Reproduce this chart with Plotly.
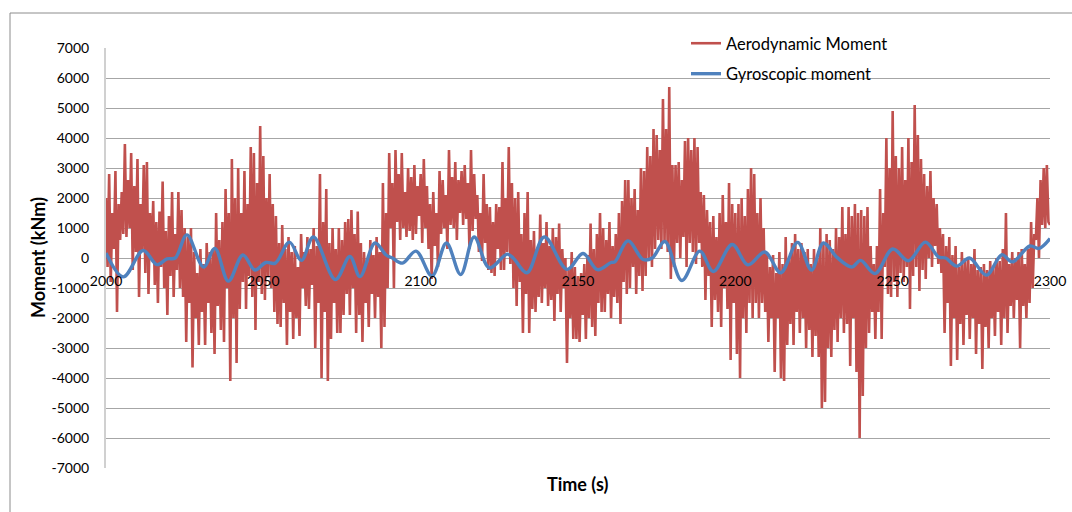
import plotly.graph_objects as go

# Aerodynamic moment samples, every 0.5 s from t = 2000 s (kNm)
aero_start = 2000.0
aero_step = 0.5
aero_moment = [
    2000, -300, 2800, -800, 1500, 300, 2900, -1800, 1800, 600, 2200, 800, 3800, 700, 2600, 1000, 3500, -400, 2400, 200,
    3300, -1300, 1800, 200, 3100, -500, 3200, -1200, 1500, 0, 1900, -900, 1200, -1500, 1550, -300, 2550, -1000, 900, -1900,
    1400, -600, 2200, -1300, 800, -400, 2200, -1000, 1600, -1300, 1000, -2800, 700, -1500, 1000, -3650, 200, -2000, -500, -2900,
    300, -1800, -200, -2900, 500, -1500, 200, -2500, 300, -3200, 1500, -1600, 600, -2400, 1200, -2800, 2300, -1000, 1500, -4100,
    3300, -2000, 2000, -3500, 3000, -1700, 1500, -800, 2900, -1700, 1800, -600, 3700, -1300, 3500, -2400, 2500, -800, 4400, -1200,
    3400, -1400, 2000, -600, 2800, -1000, 1800, -1800, 1400, -2200, 500, -2300, 1100, -1500, 300, -2900, 700, -1800, 200, -2700,
    400, -2000, -300, -2600, 800, -1000, 200, -1600, 700, -1700, 300, -900, 1000, -3000, 400, -1500, 2800, -4000, 1200, -1800,
    2300, -4100, 500, -2700, 1000, -1500, 300, -2500, 1000, -2500, 600, -1900, 1200, -1200, 1300, -1900, 1600, -1000, 800, -2500,
    1550, -1900, 500, -2800, 200, -1500, 0, -2300, 600, -1200, 100, -2000, 700, -1300, 200, -3000, 2500, -2300, 1500, -1000,
    3500, 1000, 2500, -1000, 3600, 1200, 2800, 600, 3500, 1000, 2200, 700, 3000, 900, 2700, 600, 3100, 800, 2400, 1400,
    2800, 500, 3300, 1000, 2400, 300, 1800, -700, 2200, 400, 1500, -300, 2900, 800, 2600, 1000, 2100, 300, 3600, 1100,
    2700, 1000, 3200, 600, 2600, 1500, 2900, 1100, 3100, 1300, 2500, 300, 3600, 900, 2800, 1300, 2100, 200, 1500, -100,
    2800, 500, 1800, -400, 1700, -500, 1200, -600, 1800, 300, 1700, -400, 3200, -400, 2000, 200, 3700, -200, 2500, -1000,
    2000, -1600, 2200, -800, 800, -2500, 1500, -1200, 2200, -2500, 600, -1700, 900, -1800, 300, -1300, 1450, -1500, 500, -1000,
    1200, -1600, 400, -1400, 1000, -2100, 700, -1200, 1150, -1800, 300, -1000, 0, -3500, -400, -2000, 200, -2700, -300, -2700,
    -600, -2800, -500, -1900, -200, -2700, 100, -2000, 1150, -2300, 300, -2600, 800, -1500, 1500, -1800, 1000, -1800, 600, -1200,
    1200, -2000, 400, -1300, 800, -1500, 1500, -2200, 1900, -800, 2600, -1200, 2600, -1000, 2000, -300, 2300, -1200, 1600, -600,
    3000, -1100, 2900, -600, 3700, 0, 3400, -300, 4300, 300, 4100, 600, 3600, 300, 5300, 500, 4300, 200, 5700, -700,
    3100, -300, 3100, 500, 3200, 0, 2600, 700, 3900, -300, 4000, 500, 3600, 200, 4000, -200, 3700, 500, 2200, -300,
    2100, -1400, 1600, -600, 1200, -2300, 1400, -1400, 700, -1800, 1500, -2300, 2100, -1000, 1200, -1700, 2500, -3400, 1800, -1500,
    1500, -3200, 1800, -4000, 2000, -2000, 1400, -2500, 2300, -1500, 3000, -2000, 2800, -1500, 1500, -2000, 2000, -1500, 1000, -1800,
    200, -2800, -300, -2000, 100, -3800, -500, -2000, 200, -4000, -200, -4100, 700, -2900, 0, -2200, 500, -2900, 800, -1800,
    300, -2500, 500, -2000, 200, -3000, 300, -2400, -200, -3300, 300, -2600, 0, -3300, 1000, -5000, 500, -4800, 800, -3000,
    600, -3300, 300, -2400, 1000, -2800, 700, -2000, 1700, -2500, 800, -2200, 1700, -3600, 1400, -2000, 1800, -3800, 1500, -6000,
    1600, -4600, 1400, -3000, 1700, -2500, 400, -1800, -200, -2700, 400, -1800, 2300, -2700, 1500, -300, 4000, -1200, 3000, -1300,
    4900, -800, 3400, -1300, 3000, -500, 3700, -800, 2600, -300, 4000, -1700, 3200, -600, 5100, -300, 4100, -1100, 3300, -400,
    2800, -700, 2400, 0, 2900, -300, 2000, 400, 1800, -200, 1000, -500, 800, -2500, 400, -1500, 700, -3600, 100, -2000,
    400, -3400, -300, -2200, 200, -2900, -100, -1900, 0, -2700, -200, -2000, 300, -3200, -400, -2200, -300, -3700, -200, -2300,
    -400, -3000, -100, -2000, -300, -2600, 0, -1800, -100, -2900, 300, -2000, 1500, -2500, -200, -1600, 200, -2000, 0, -1400,
    200, -3000, 300, -1600, -200, -2000, 300, -1500, 1200, -1000, 800, 600, 2000, 0, 2600, 1100, 3000, 1000, 3100, 1200,
    1100,
]
aero_time = [aero_start + aero_step * i for i in range(len(aero_moment))]

# Gyroscopic moment, read at its turning points (kNm)
gyro_time = [
    2000, 2005.5, 2011.8, 2016.2, 2019.4, 2022, 2025.7, 2031, 2034.6, 2038.9,
    2043.5, 2047.3, 2050.8, 2053.8, 2058.3, 2062.1, 2065.9, 2072.9, 2077.5, 2080.7,
    2085.5, 2089, 2091, 2094.2, 2098.5, 2103.6, 2108.2, 2112.7, 2117, 2121.8,
    2127.5, 2129.4, 2133.8, 2139.3, 2146.5, 2151.6, 2156.2, 2160.5, 2161.7, 2165.9,
    2170.7, 2173.6, 2177.6, 2183, 2188.7, 2193, 2199, 2204, 2209.4, 2214.4,
    2219.8, 2224.2, 2228, 2232.3, 2237, 2239.8, 2244.4, 2250, 2255, 2260.4,
    2264.6, 2266.8, 2270.4, 2274.4, 2279.8, 2284.7, 2288, 2293.6, 2296.5, 2300,
]
gyro_moment = [
    170, -630, 250, -220, -30, 0, 770, -300, 320, -770,
    100, -400, -150, -170, 530, -80, 700, -720, 50, -620,
    500, 100, 0, -170, 230, -600, 500, -550, 700, -330,
    130, 0, -490, 700, -380, 150, -390, -150, -130, 570,
    -50, 0, 550, -750, 230, -450, 450, -230, 200, -490,
    520, -400, 500, 20, -300, -80, -520, 300, -90, 530,
    30, 0, -270, 0, -570, 110, -130, 400, 320, 650,
]

x_ticks = [2000, 2050, 2100, 2150, 2200, 2250, 2300]
y_ticks = list(range(-7000, 7001, 1000))

FONT = "Lato, 'Open Sans', sans-serif"

fig = go.Figure()
fig.add_trace(go.Scatter(
    x=aero_time, y=aero_moment, mode="lines", name="Aerodynamic Moment",
    line=dict(color="#C0504D", width=2.6), legendgroup="a",
))
fig.add_trace(go.Scatter(
    x=gyro_time, y=gyro_moment, mode="lines", name="Gyroscopic moment",
    line=dict(color="#4F81BD", width=3.4, shape="spline", smoothing=1.0), legendgroup="b",
))

fig.update_layout(
    width=1072, height=512,
    margin=dict(l=106, r=22, t=48, b=44, autoexpand=False),
    paper_bgcolor="white", plot_bgcolor="white",
    font=dict(family=FONT, size=14, color="#000000"),
    showlegend=True,
    legend=dict(
        x=(686 - 106) / 944, xanchor="left",
        y=(468 - 26) / 420, yanchor="top",
        bgcolor="rgba(0,0,0,0)", borderwidth=0,
        font=dict(family=FONT, size=16.5, color="#000000"),
        traceorder="grouped", tracegroupgap=6,
        itemwidth=30,
    ),
    xaxis=dict(
        range=[2000, 2300], tickvals=x_ticks, ticktext=[str(v) for v in x_ticks],
        showgrid=False, zeroline=False, showline=False, ticks="",
        anchor="free", position=0.5, automargin=False,
        ticklabelstandoff=13,
        tickfont=dict(family=FONT, size=14, color="#000000"),
    ),
    yaxis=dict(
        range=[-7000, 7000], tickvals=y_ticks, ticktext=[str(v) for v in y_ticks],
        showgrid=True, gridcolor="#A6A6A6", gridwidth=1,
        zeroline=False, showline=True, linecolor="#D0D0D0", linewidth=2,
        ticks="", ticklabelstandoff=12, automargin=False,
        tickfont=dict(family=FONT, size=14, color="#000000"),
    ),
    annotations=[
        dict(text="<b>Moment (kNm)</b>", textangle=-90, xref="paper", yref="paper",
             x=(38 - 106) / 944, y=0.5, xanchor="center", yanchor="middle", showarrow=False,
             font=dict(family=FONT, size=18, color="#000000")),
        dict(text="<b>Time (s)</b>", xref="paper", yref="paper",
             x=(577 - 106) / 944, y=(468 - 484) / 420, xanchor="center", yanchor="middle",
             showarrow=False,
             font=dict(family=FONT, size=18, color="#000000")),
    ],
    shapes=[
        dict(type="rect", xref="paper", yref="paper",
             x0=(10 - 106) / 944, x1=(1085 - 106) / 944,
             y0=(468 - 530) / 420, y1=(468 - 13) / 420,
             line=dict(color="#8C8C8C", width=1), layer="below"),
    ],
)

fig.write_html("out.html")
